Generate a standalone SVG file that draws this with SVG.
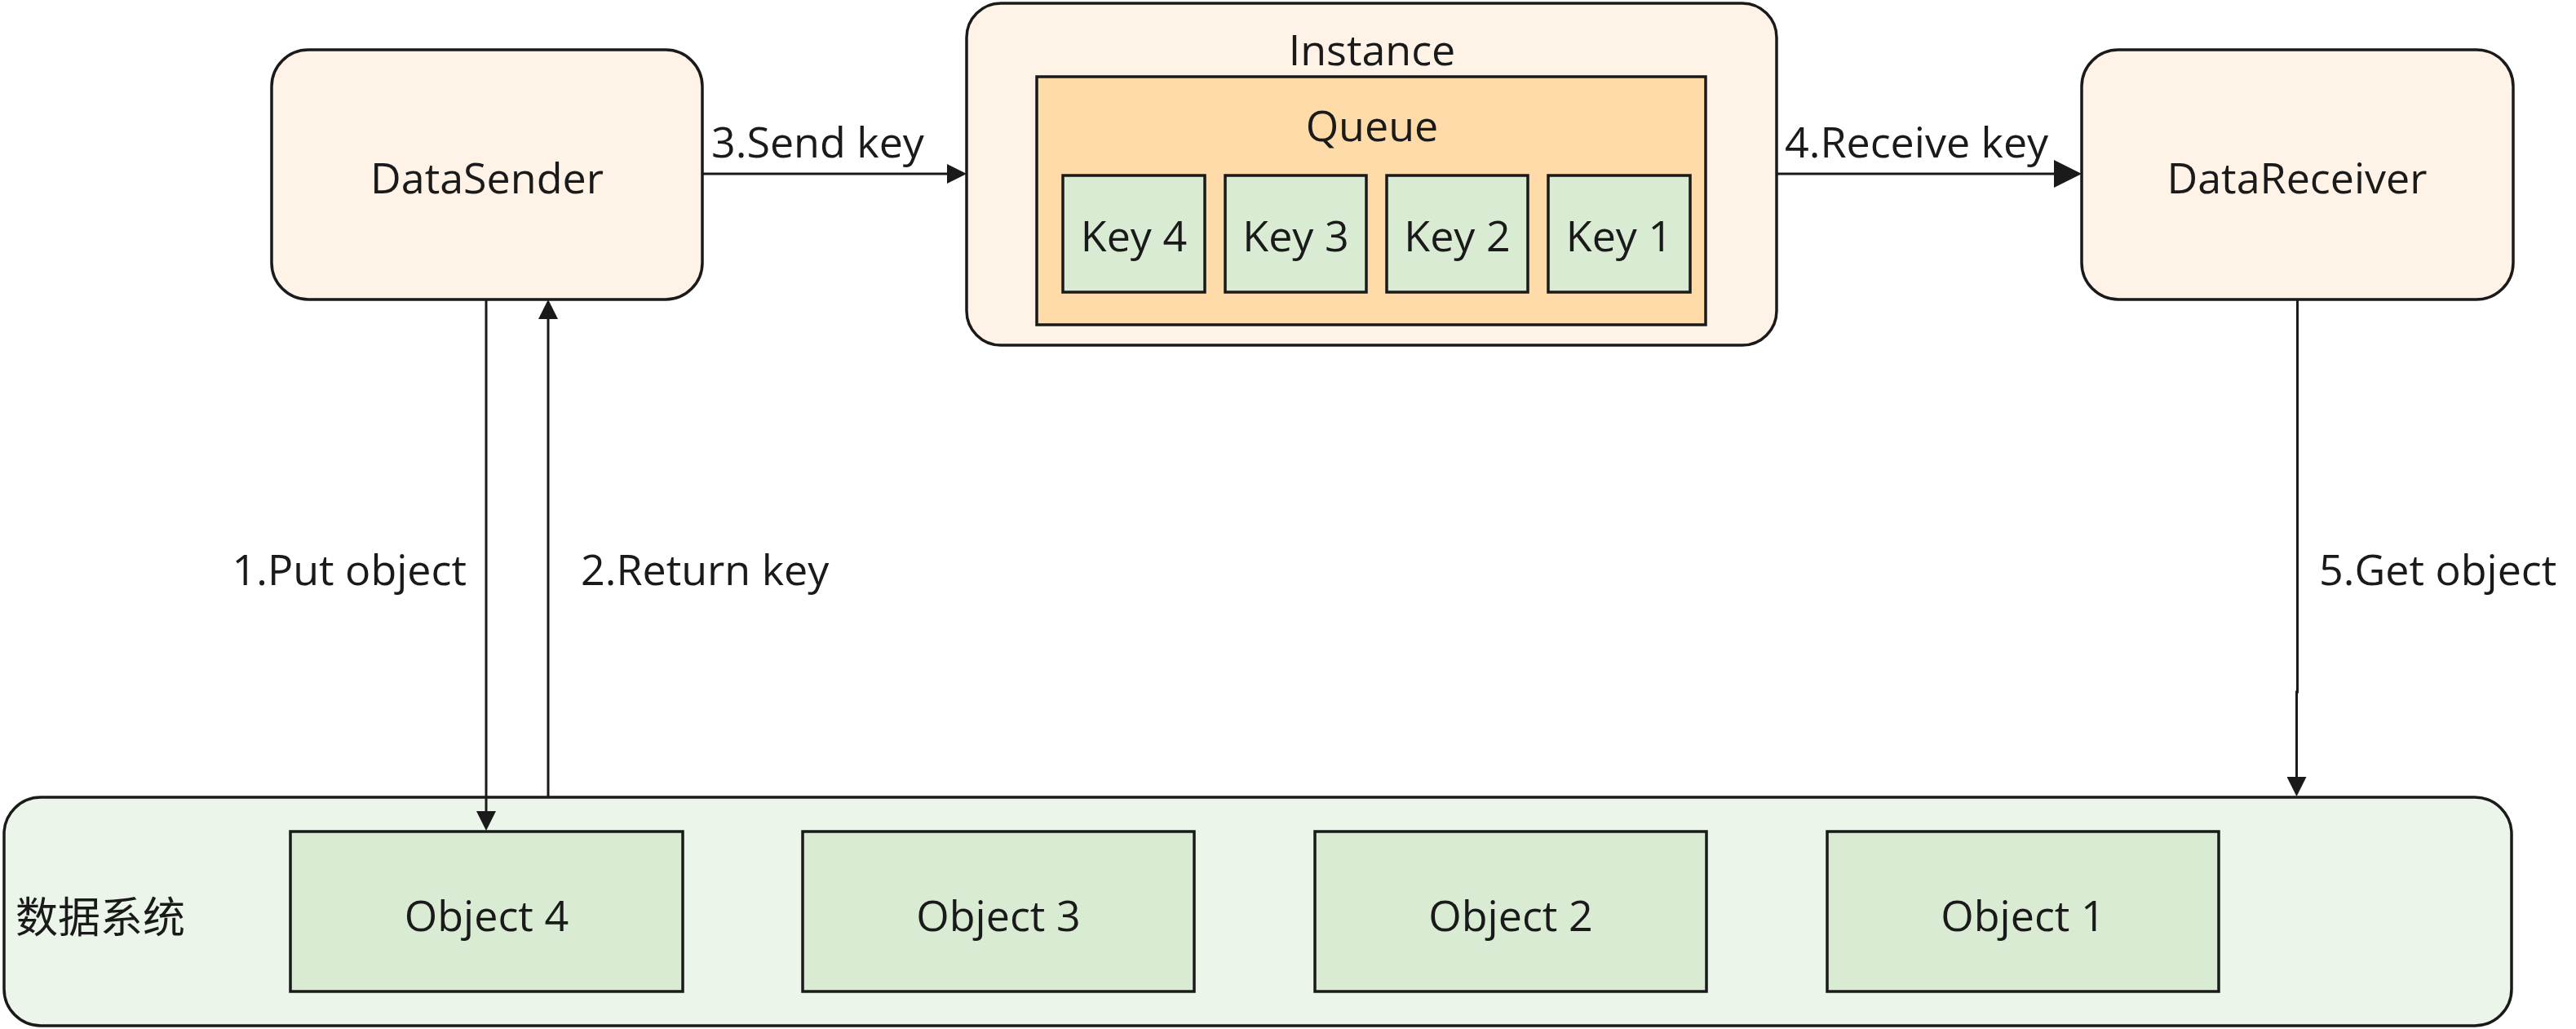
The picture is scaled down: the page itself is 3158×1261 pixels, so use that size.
<svg xmlns="http://www.w3.org/2000/svg" width="3158" height="1261" viewBox="0 0 3158 1261">
<defs>
<style>
text{font-family:"Open Sans","Noto Sans","Noto Sans CJK SC",sans-serif;font-size:52px;fill:#1a1a1a}
.c{text-anchor:middle}
.box{stroke:#1a1a1a;stroke-width:3.5}
.peach{fill:#fef3e6}
.queue{fill:#fedba8}
.green{fill:#d9ebd3}
.sys{fill:#ebf5ea}
.ln{fill:none;stroke:#1a1a1a;stroke-width:3}
</style>
<marker id="arr" markerUnits="userSpaceOnUse" markerWidth="24" markerHeight="24" refX="2" refY="12" orient="auto" viewBox="0 0 24 24">
<path d="M0,0 L24,12 L0,24 z" fill="#1a1a1a"/>
</marker>
<marker id="arrL" markerUnits="userSpaceOnUse" markerWidth="34" markerHeight="34" refX="2" refY="17" orient="auto" viewBox="0 0 34 34">
<path d="M0,0 L34,17 L0,34 z" fill="#1a1a1a"/>
</marker>
</defs>
<rect width="3158" height="1261" fill="#ffffff"/>

<g id="datasystem">
<rect class="box sys" x="5" y="977" width="3074" height="280" rx="45" ry="45"/>
<text x="19" y="1143">数据系统</text>
</g>
<g id="object4">
<rect class="box green" x="356" y="1019" width="481" height="196"/>
<text class="c" x="596.5" y="1141">Object 4</text>
</g>
<g id="object3">
<rect class="box green" x="984" y="1019" width="480" height="196"/>
<text class="c" x="1224" y="1141">Object 3</text>
</g>
<g id="object2">
<rect class="box green" x="1612" y="1019" width="480" height="196"/>
<text class="c" x="1852" y="1141">Object 2</text>
</g>
<g id="object1">
<rect class="box green" x="2240" y="1019" width="480" height="196"/>
<text class="c" x="2480" y="1141">Object 1</text>
</g>

<g id="datasender">
<rect class="box peach" x="333" y="61" width="528" height="306" rx="45" ry="45"/>
<text class="c" x="597" y="237">DataSender</text>
</g>
<g id="instance">
<rect class="box peach" x="1185" y="4" width="993" height="419" rx="42" ry="42"/>
<text class="c" x="1682" y="80">Instance</text>
</g>
<g id="queue">
<rect class="box queue" x="1271" y="94" width="820" height="304"/>
<text class="c" x="1682" y="173">Queue</text>
</g>
<g id="key4">
<rect class="box green" x="1303" y="215" width="174" height="143"/>
<text class="c" x="1390" y="308">Key 4</text>
</g>
<g id="key3">
<rect class="box green" x="1502" y="215" width="173" height="143"/>
<text class="c" x="1588.5" y="308">Key 3</text>
</g>
<g id="key2">
<rect class="box green" x="1700" y="215" width="173" height="143"/>
<text class="c" x="1786.5" y="308">Key 2</text>
</g>
<g id="key1">
<rect class="box green" x="1898" y="215" width="174" height="143"/>
<text class="c" x="1985" y="308">Key 1</text>
</g>
<g id="datareceiver">
<rect class="box peach" x="2552" y="61" width="529" height="306" rx="45" ry="45"/>
<text class="c" x="2816" y="237">DataReceiver</text>
</g>

<g id="connectors">
<line class="ln" x1="861" y1="213" x2="1163" y2="213" marker-end="url(#arr)"/>
<text x="872" y="193">3.Send key</text>
<line class="ln" x1="2178" y1="213" x2="2520" y2="213" marker-end="url(#arrL)"/>
<text x="2188" y="193">4.Receive key</text>
<line class="ln" x1="596" y1="367" x2="596" y2="996" marker-end="url(#arr)"/>
<text x="572" y="717" text-anchor="end">1.Put object</text>
<line class="ln" x1="672" y1="977" x2="672" y2="389" marker-end="url(#arr)"/>
<text x="712" y="717">2.Return key</text>
<path class="ln" d="M2816.5,367 V848 H2815.5 V954" marker-end="url(#arr)"/>
<text x="2843" y="717">5.Get object</text>
</g>
</svg>
